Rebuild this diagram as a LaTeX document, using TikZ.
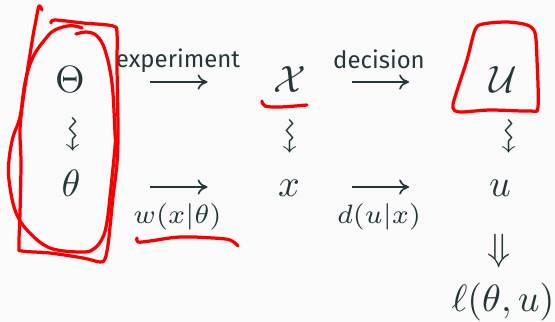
\documentclass[tikz,border=0pt]{standalone}
\usepackage{amssymb}
\usepackage{fontspec}
\setsansfont{Fira Sans}
\usetikzlibrary{arrows.meta}
\definecolor{ink}{HTML}{23373B}
\definecolor{bg}{HTML}{FAFAFA}
\definecolor{pen}{HTML}{F80000}
\tikzset{
  sym/.style={inner sep=0pt, outer sep=0pt, anchor=base, text=ink},
  lbl/.style={inner sep=0pt, outer sep=0pt, anchor=base, text=ink, font=\sffamily\fontsize{6.3}{7}\selectfont},
  sq/.style={inner sep=0pt, outer sep=0pt, anchor=center, text=ink, rotate=-90},
  arr/.style={draw=ink, line width=0.45pt, -{To[length=2.6pt,width=4pt]}},
  stroke/.style={draw=pen, line width=0.85pt, line cap=round, line join=round}
}
\begin{document}
\begin{tikzpicture}[x=0.263pt, y=-0.263pt]
\fill[bg] (0,0) rectangle (555,321);
\useasboundingbox (0,0) rectangle (555,321);
% row 1
\node[sym] (Th) at (70,92) {$\Theta$};
\node[lbl] (exp) at (178,67) {experiment};
\coordinate (a1s) at (150,82);
\coordinate (a1e) at (207.5,82);
\node[sym] (X) at (290,92) {$\mathcal{X}$};
\node[lbl] (dec) at (379,68) {decision};
\coordinate (a2s) at (351.5,82);
\coordinate (a2e) at (409,82);
\node[sym] (U) at (503,92) {$\mathcal{U}$};
% squiggles
\node[sq] (s1) at (71,135) {$\rightsquigarrow$};
\node[sq] (s2) at (288,137) {$\rightsquigarrow$};
\node[sq] (s3) at (507,137) {$\rightsquigarrow$};
% row 2
\node[sym] (th) at (71,196) {$\theta$};
\coordinate (a3s) at (150,187);
\coordinate (a3e) at (207.5,187);
\node[sym] (w) at (177.5,223) {$\scriptstyle w(x|\theta)$};
\node[sym] (x) at (289,196) {$x$};
\coordinate (a4s) at (351.5,187);
\coordinate (a4e) at (409,187);
\node[sym] (d) at (379,223) {$\scriptstyle d(u|x)$};
\node[sym] (u) at (500,196) {$u$};
% row 3
\node[sym, anchor=center] (dd) at (499,251) {$\Downarrow$};
\node[sym] (l) at (503,311) {$\ell(\theta,u)$};
% arrows
\draw[arr] (a1s) -- (a1e);
\draw[arr] (a2s) -- (a2e);
\draw[arr] (a3s) -- (a3e);
\draw[arr] (a4s) -- (a4e);
% red annotations
\draw[stroke] plot[smooth, tension=0.55] coordinates {
 (42,10) (39,6) (36,20) (33,36) (28,67) (23,100) (20,130) (21,163) (20,213) (19,246)
 (22,251) (50,253) (83,258) (100,262) (105,259) (108,245) (110,227) (113,197) (117,163)
 (118,130) (117,67) (117,34) (113,26) (83,23) (55,20) (51,23)};
\draw[stroke] plot[smooth, tension=0.6] coordinates {
 (82,28) (75,26) (67,26) (55,30) (47,37) (33,57) (25,83) (20,117) (13,137) (9,160)
 (9,180) (15,210) (27,230) (50,248) (83,252) (95,248) (103,237) (107,222) (110,197)
 (115,147) (115,133) (112,83) (105,50) (97,36) (87,32) (76,34)};
\draw[stroke] plot[smooth, tension=0.6] coordinates {
 (137,238) (138,242) (150,241) (180,237) (213,238) (230,240) (238,246)};
\draw[stroke] plot[smooth, tension=0.6] coordinates {
 (262,101) (265,106) (280,107) (307,105)};
\draw[stroke] plot[smooth cycle, tension=0.5] coordinates {
 (475,30) (483,24) (507,22) (527,25) (535,33) (537,60) (538,107) (530,111)
 (490,110) (460,112) (453,108) (455,97) (467,60)};
\end{tikzpicture}
\end{document}
